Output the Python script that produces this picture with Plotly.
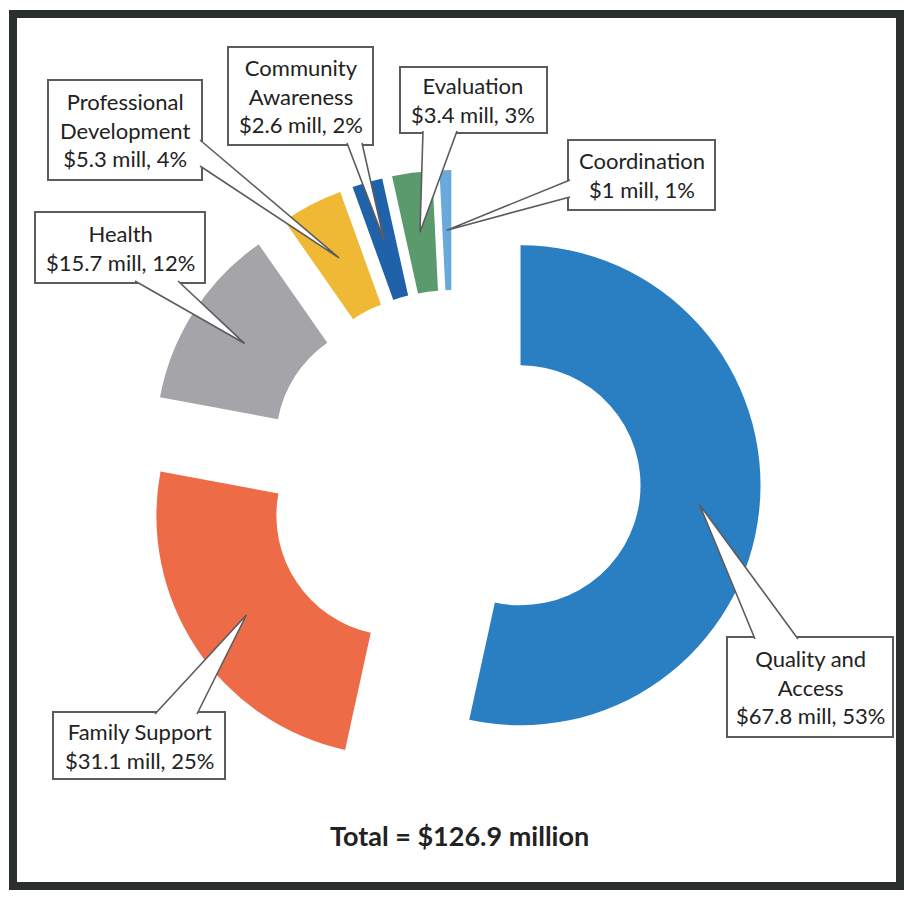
import math
import plotly.graph_objects as go

# ---------------- data ----------------
categories = ["Quality and Access", "Family Support", "Health",
              "Professional Development", "Community Awareness",
              "Evaluation", "Coordination"]
label_names = ["Quality and<br>Access", "Family Support", "Health",
               "Professional<br>Development", "Community<br>Awareness",
               "Evaluation", "Coordination"]
values_mill = [67.8, 31.1, 15.7, 5.3, 2.6, 3.4, 1.0]
colors = ["#2a7fc3", "#ee6b47", "#a5a5a9", "#efb935",
          "#1f62a9", "#5b9a6c", "#6aa9dc"]

# ---------------- layout constants (pixels) ----------------
W, H = 904, 899
CX, CY = 453, 478        # centre of un-exploded donut
R = 240                  # outer radius
HOLE = 0.5
PULL = 0.283

# callout boxes: (x0, y0, x1, y1), side of wedge base, base span along that side
callouts = [
    ((727, 637, 893, 737), "top", (755, 798)),
    ((53, 712, 225, 779), "top", (155, 197)),
    ((35, 212, 205, 283), "bottom", (135, 178)),
    ((48, 80, 202, 180), "right", (140, 166)),
    ((228, 47, 373, 145), "bottom", (347, 362)),
    ((400, 67, 547, 133), "bottom", (423, 457)),
    ((568, 140, 715, 210), "left", (180, 197)),
]

FONT = "Lato"
TEXT_COLOR = "#222222"
BOX_LINE = "#5c5c5c"


def px(x):
    return x / W


def py(y):
    return 1 - y / H


total = sum(values_mill)
half = R * (1 + PULL)

fig = go.Figure(go.Pie(
    labels=categories,
    values=values_mill,
    sort=False,
    direction="clockwise",
    rotation=0,
    hole=HOLE,
    pull=PULL,
    marker=dict(colors=colors, line=dict(width=0)),
    textinfo="none",
    hoverinfo="label+value+percent",
    showlegend=False,
    domain=dict(x=[px(CX - half), px(CX + half)],
                y=[py(CY + half), py(CY - half)]),
))

shapes = []
annotations = []
cum = 0.0
for name, v, (box, side, span) in zip(label_names, values_mill, callouts):
    mid = (cum + v / 2) / total * 2 * math.pi
    cum += v
    dx, dy = math.sin(mid), -math.cos(mid)
    dist = PULL * R + (1 + HOLE) / 2 * R
    tx, ty = CX + dist * dx, CY + dist * dy
    x0, y0, x1, y1 = box
    # box
    shapes.append(dict(type="rect", xref="paper", yref="paper",
                       x0=px(x0), x1=px(x1), y0=py(y0), y1=py(y1),
                       line=dict(color=BOX_LINE, width=2),
                       fillcolor="white", layer="above"))
    a, b = span
    if side == "top":
        p1, p2 = (a, y0 + 2), (b, y0 + 2)
    elif side == "bottom":
        p1, p2 = (a, y1 - 2), (b, y1 - 2)
    elif side == "right":
        p1, p2 = (x1 - 2, a), (x1 - 2, b)
    else:
        p1, p2 = (x0 + 2, a), (x0 + 2, b)
    path = (f"M {px(p1[0])},{py(p1[1])} L {px(tx)},{py(ty)} "
            f"L {px(p2[0])},{py(p2[1])}")
    shapes.append(dict(type="path", xref="paper", yref="paper", path=path,
                       line=dict(color=BOX_LINE, width=1.6),
                       fillcolor="white", layer="above"))
    pct = round(v / total * 100)
    text = f"{name}<br>${v:g} mill, {pct}%"
    annotations.append(dict(text=text, xref="paper", yref="paper",
                            x=px((x0 + x1) / 2), y=py((y0 + y1) / 2),
                            xanchor="center", yanchor="middle",
                            showarrow=False, align="center",
                            font=dict(family=FONT, size=22, color=TEXT_COLOR)))

annotations.append(dict(text=f"<b>Total = ${total:.1f} million</b>",
                        xref="paper", yref="paper", x=px(459), y=py(835),
                        xanchor="center", yanchor="middle", showarrow=False,
                        font=dict(family=FONT, size=27, color="#222222")))

# outer frame
shapes.append(dict(type="rect", xref="paper", yref="paper",
                   x0=px(13), x1=px(900), y0=py(14), y1=py(886),
                   line=dict(color="#2b2f2e", width=8),
                   fillcolor="rgba(0,0,0,0)", layer="above"))

fig.update_layout(
    width=W, height=H,
    margin=dict(l=0, r=0, t=0, b=0),
    paper_bgcolor="white",
    plot_bgcolor="white",
    shapes=shapes,
    annotations=annotations,
)

fig.write_html("out.html", config={"displayModeBar": False},
               post_script="document.body.style.margin='0';")
